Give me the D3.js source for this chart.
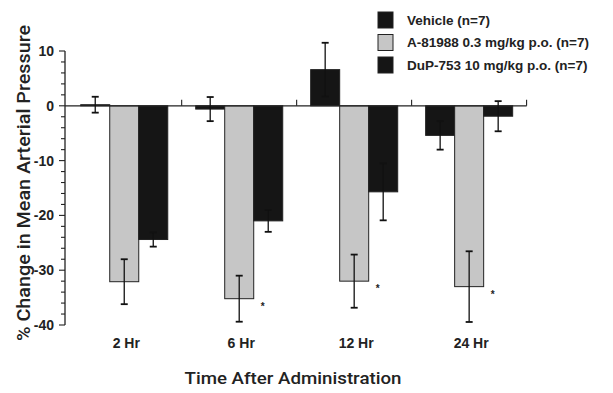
<!DOCTYPE html>
<html>
<head>
<meta charset="utf-8">
<script src="https://cdn.jsdelivr.net/npm/d3@7"></script>
<style>
  body { margin: 0; background: #fff; }
  svg { display: block; font-family: "Liberation Sans", Arial, Helvetica, sans-serif; }
</style>
</head>
<body>
<svg id="chart" width="613" height="393"></svg>
<script>
const categories = ["2 Hr", "6 Hr", "12 Hr", "24 Hr"];
const seriesNames = ["Vehicle (n=7)", "A-81988 0.3 mg/kg p.o. (n=7)", "DuP-753 10 mg/kg p.o. (n=7)"];
const vehicle = [0.2, -0.6, 6.6, -5.4];
const vehicleErr = [1.45, 2.2, 4.9, 2.6];
const a81988 = [-32.1, -35.2, -32.0, -33.0];
const a81988Err = [4.1, 4.2, 4.85, 6.45];
const dup753 = [-24.4, -21.0, -15.7, -1.9];
const dup753Err = [1.3, 2.0, 5.2, 2.75];
const a81988Significant = [false, true, true, true];
const yTicks = [10, 0, -10, -20, -30, -40];

const black = "#151515";
const grey = "#c6c6c6";
const fills = [black, grey, black];

const values = [vehicle, a81988, dup753];
const errors = [vehicleErr, a81988Err, dup753Err];

// flatten into one row per bar
const rows = [];
categories.forEach((c, i) => {
  values.forEach((v, s) => {
    rows.push({ cat: c, series: s, value: v[i], err: errors[s][i], star: s === 1 && a81988Significant[i] });
  });
});

const svg = d3.select("#chart");

const y = d3.scaleLinear().domain([-40, 10]).range([325, 51]);
const x0 = d3.scaleBand().domain(categories).range([66.7, 526.7])
  .paddingInner(0.243).paddingOuter(0.122);
const x1 = d3.scaleBand().domain([0, 1, 2]).range([0, x0.bandwidth()]);

const axisX = 65;

// y axis: major + minor ticks
const yAxis = svg.append("g").attr("transform", `translate(${axisX},0)`);
yAxis.append("line")
  .attr("y1", y(10)).attr("y2", y(-40))
  .attr("stroke", "#222").attr("stroke-width", 1.3);
yAxis.selectAll(".minor")
  .data(d3.range(-40, 10.01, 2))
  .join("line")
  .attr("x1", (d) => (d % 10 === 0 ? -6 : -4)).attr("x2", 0)
  .attr("y1", (d) => y(d)).attr("y2", (d) => y(d))
  .attr("stroke", "#222").attr("stroke-width", 1.1);
yAxis.selectAll("text")
  .data(yTicks)
  .join("text")
  .attr("x", -11)
  .attr("y", (d) => y(d))
  .attr("dy", "0.35em")
  .attr("text-anchor", "end")
  .attr("font-size", 14)
  .attr("font-weight", "bold")
  .attr("fill", "#222")
  .text((d) => d);

// bars
svg.append("g")
  .selectAll("rect")
  .data(rows)
  .join("rect")
  .attr("x", (d) => x0(d.cat) + x1(d.series))
  .attr("width", x1.bandwidth())
  .attr("y", (d) => y(Math.max(0, d.value)))
  .attr("height", (d) => Math.abs(y(d.value) - y(0)))
  .attr("fill", (d) => fills[d.series])
  .attr("stroke", "#222")
  .attr("stroke-width", 1);

// zero line with upward category ticks
const xAxis = svg.append("g");
xAxis.append("line")
  .attr("x1", axisX).attr("x2", x0.range()[1])
  .attr("y1", y(0)).attr("y2", y(0))
  .attr("stroke", "#222").attr("stroke-width", 1.3);
const step = x0.step();
xAxis.selectAll(".tick")
  .data(categories)
  .join("line")
  .attr("x1", (d) => x0(d) - x0.paddingOuter() * step + step)
  .attr("x2", (d) => x0(d) - x0.paddingOuter() * step + step)
  .attr("y1", y(0)).attr("y2", y(0) - 6)
  .attr("stroke", "#222").attr("stroke-width", 1.1);

// error bars
const eb = svg.append("g").attr("stroke", "#111").attr("stroke-width", 1.3);
rows.forEach((d) => {
  const cx = x0(d.cat) + x1(d.series) + x1.bandwidth() / 2;
  const top = y(d.value + d.err);
  const bot = y(d.value - d.err);
  eb.append("line").attr("x1", cx).attr("x2", cx).attr("y1", top).attr("y2", bot);
  eb.append("line").attr("x1", cx - 3.5).attr("x2", cx + 3.5).attr("y1", top).attr("y2", top).attr("stroke-width", 1.8);
  eb.append("line").attr("x1", cx - 3.5).attr("x2", cx + 3.5).attr("y1", bot).attr("y2", bot).attr("stroke-width", 1.8);
});

// significance marks
svg.append("g")
  .selectAll("text")
  .data(rows.filter((d) => d.star))
  .join("text")
  .attr("x", (d) => x0(d.cat) + x1(d.series) + x1.bandwidth() + 9)
  .attr("y", (d) => y(d.value) + 11)
  .attr("text-anchor", "middle")
  .attr("font-size", 10)
  .attr("font-weight", "bold")
  .attr("fill", "#222")
  .text("*");

// category labels
svg.append("g")
  .selectAll("text")
  .data(categories)
  .join("text")
  .attr("x", (d) => x0(d) + x0.bandwidth() / 2 + 2)
  .attr("y", 348)
  .attr("text-anchor", "middle")
  .attr("font-size", 14)
  .attr("font-weight", "bold")
  .attr("fill", "#222")
  .text((d) => d);

// axis titles
svg.append("text")
  .attr("x", 293).attr("y", 384)
  .attr("text-anchor", "middle")
  .attr("font-family", "Roboto, 'Liberation Sans', sans-serif")
  .attr("font-weight", 500)
  .attr("font-size", 17)
  .attr("textLength", 217)
  .attr("lengthAdjust", "spacingAndGlyphs")
  .attr("fill", "#222")
  .text("Time After Administration");

svg.append("text")
  .attr("transform", "translate(30,183) rotate(-90)")
  .attr("text-anchor", "middle")
  .attr("font-family", "Roboto, 'Liberation Sans', sans-serif")
  .attr("font-weight", 500)
  .attr("font-size", 18)
  .attr("textLength", 316)
  .attr("lengthAdjust", "spacingAndGlyphs")
  .attr("fill", "#222")
  .text("% Change in Mean Arterial Pressure");

// legend
const legend = svg.append("g")
  .selectAll("g")
  .data(seriesNames)
  .join("g")
  .attr("transform", (d, i) => `translate(378,${20 + i * 22.5})`);
legend.append("rect")
  .attr("x", 0).attr("y", -8)
  .attr("width", 15).attr("height", 16)
  .attr("fill", (d, i) => fills[i])
  .attr("stroke", "#222").attr("stroke-width", 1);
legend.append("text")
  .attr("x", 29).attr("y", 0)
  .attr("dy", "0.36em")
  .attr("font-size", 13.5)
  .attr("font-weight", "bold")
  .attr("fill", "#222")
  .text((d) => d);
</script>
</body>
</html>
